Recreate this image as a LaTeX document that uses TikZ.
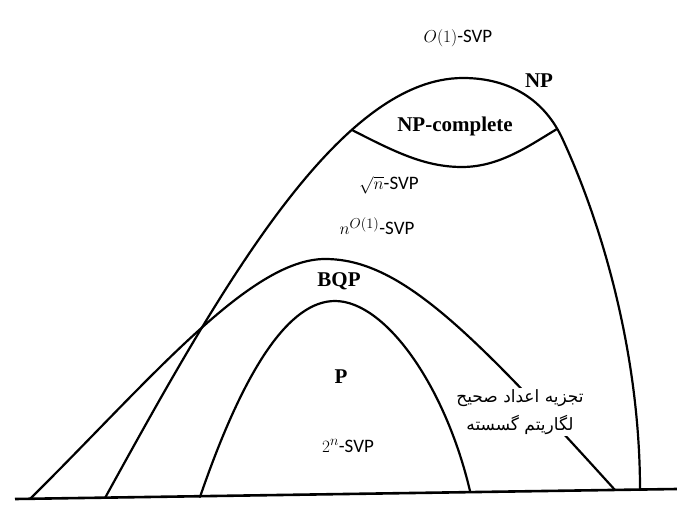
\documentclass[tikz,border=0pt]{standalone}
\usepackage{fontspec}
\setmainfont{Liberation Serif}
\newfontfamily\svpfont{Carlito}
\newfontfamily\arabicfont[Script=Arabic]{DejaVu Sans}
\TeXXeTstate=1
\newcommand{\svptag}{{\svpfont -SVP}}

\begin{document}
\begin{tikzpicture}[x=1pt,y=-1pt,
   region/.style={line width=2.2pt,line join=round,line cap=round},
   cls/.style={font=\fontsize{21}{24}\selectfont\bfseries},
   svplabel/.style={font=\fontsize{19}{22}\selectfont},
   fa/.style={font=\fontsize{17}{28}\selectfont\arabicfont,align=center,
     fill=white,inner sep=1pt}]
  \useasboundingbox (0,0) rectangle (677,529);

  \coordinate (gl) at (15,499);
  \coordinate (gr) at (677,489);
  \draw[line width=2.6pt] (gl) -- (gr);

  % NP
  \draw[region] (105,498) .. controls (219,291) and (338,78) .. (463,78)
    .. controls (510,78) and (545,100) .. (563,140)
    .. controls (600,220) and (640,350) .. (640,490);
  \draw[region] (352,130) .. controls (395,152) and (425,167) .. (462,167)
    .. controls (500,167) and (530,145) .. (557,129);

  % BQP
  \draw[region] (30,499) .. controls (150,380) and (250,259) .. (325,259)
    .. controls (400,259) and (470,330) .. (615,490);

  % P
  \draw[region] (200,497) .. controls (245,366) and (290,301) .. (335,301)
    .. controls (385,301) and (445,385) .. (470,491);

  \node[svplabel] (o1) at (458,38) {$O(1)$\svptag};
  \node[cls] (np) at (539,81) {NP};
  \node[cls] (npc) at (455,126) {NP-complete};
  \node[svplabel] (sqrtn) at (389,185) {$\sqrt{n}$\svptag};
  \node[svplabel] (poly) at (377,226) {$n^{O(1)}$\svptag};
  \node[cls] (bqp) at (339,281) {BQP};
  \node[cls] (p) at (341,377) {P};
  \node[svplabel] (expo) at (348,446) {$2^n$\svptag};
  \node[fa] (fact) at (520,412)
    {\beginR تجزیه اعداد صحیح\endR\\\beginR لگاریتم گسسته\endR};
\end{tikzpicture}
\end{document}
